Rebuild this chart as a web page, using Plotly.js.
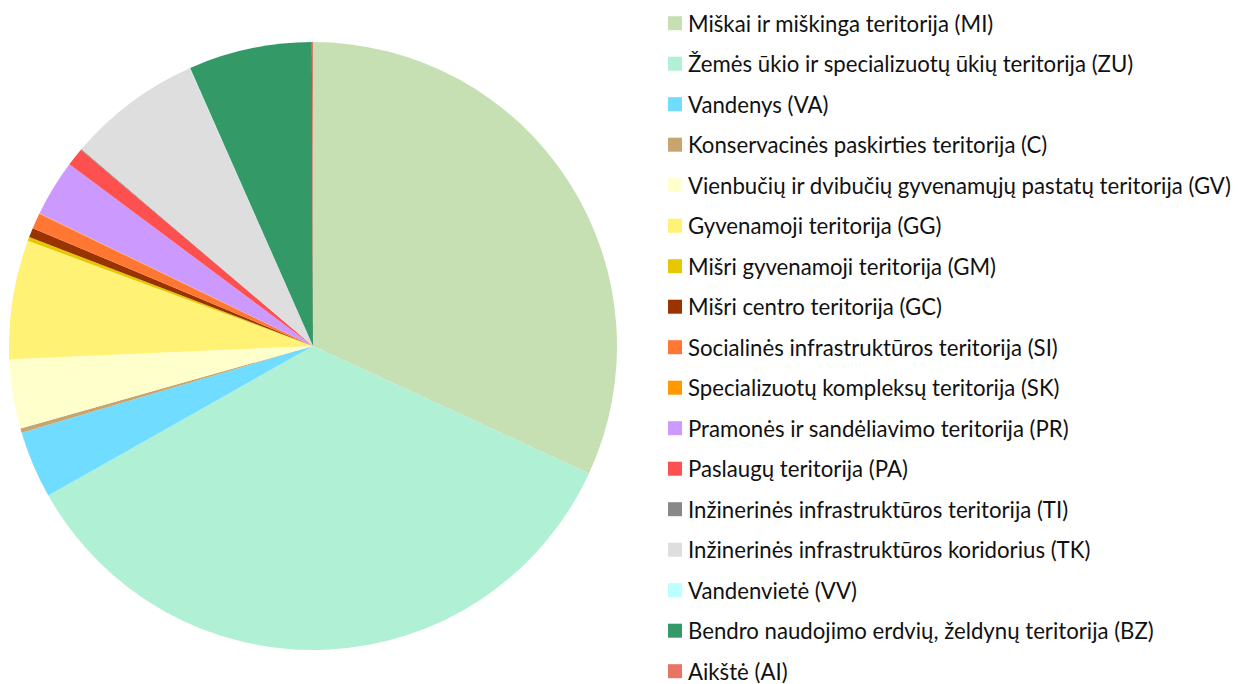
<!DOCTYPE html>
<html><head><meta charset="utf-8">
<script src="https://cdn.plot.ly/plotly-3.0.1.min.js"></script>
<style>html,body{margin:0;padding:0;background:#fff;overflow:hidden}#c{width:1239px;height:684px}</style>
</head><body><div id="c"></div>
<script>
const labels = [
  "Miškai ir miškinga teritorija (MI)",
  "Žemės ūkio ir specializuotų ūkių teritorija (ZU)",
  "Vandenys (VA)",
  "Konservacinės paskirties teritorija (C)",
  "Vienbučių ir dvibučių gyvenamųjų pastatų teritorija (GV)",
  "Gyvenamoji teritorija (GG)",
  "Mišri gyvenamoji teritorija (GM)",
  "Mišri centro teritorija (GC)",
  "Socialinės infrastruktūros teritorija (SI)",
  "Specializuotų kompleksų teritorija (SK)",
  "Pramonės ir sandėliavimo teritorija (PR)",
  "Paslaugų teritorija (PA)",
  "Inžinerinės infrastruktūros teritorija (TI)",
  "Inžinerinės infrastruktūros koridorius (TK)",
  "Vandenvietė (VV)",
  "Bendro naudojimo erdvių, želdynų teritorija (BZ)",
  "Aikštė (AI)"
];
const values = [31.89, 34.94, 3.58, 0.23, 3.68, 6.32, 0.21, 0.50, 0.83, 0.03, 3.01, 0.97, 0.04, 7.14, 0.03, 6.56, 0.06];
const colors = ["#c6e0b4", "#b0f0d4", "#70dcff", "#c8a46e", "#ffffcc", "#fff275", "#e6c800", "#993300",
  "#ff7733", "#ff9900", "#cc99ff", "#ff5050", "#888888", "#dedede", "#bbffff", "#339966", "#e87563"];

const W = 1239, H = 684;
const trace = {
  type: "pie",
  labels: labels,
  values: values,
  sort: false,
  direction: "clockwise",
  rotation: 0,
  textinfo: "none",
  marker: {colors: colors, line: {width: 0}},
  domain: {x: [9 / W, 617 / W], y: [(H - 650) / H, (H - 42) / H]},
  showlegend: false
};

const shapes = [], annotations = [];
const rowTop = 23.2, rowStep = 40.5;
labels.forEach((lab, i) => {
  const yc = rowTop + rowStep * i;
  shapes.push({type: "rect", xref: "paper", yref: "paper",
    x0: 668 / W, x1: 682 / W, y0: (H - (yc + 7)) / H, y1: (H - (yc - 7)) / H,
    fillcolor: colors[i], line: {width: 0}});
  annotations.push({xref: "paper", yref: "paper", x: 686 / W, y: (H - yc) / H,
    xanchor: "left", yanchor: "middle", showarrow: false, text: lab,
    font: {family: "Lato, sans-serif", size: 22.2, color: "#111"}});
});

const layout = {
  width: W, height: H,
  margin: {l: 0, r: 0, t: 0, b: 0},
  paper_bgcolor: "#fff",
  showlegend: false,
  shapes: shapes,
  annotations: annotations
};
Plotly.newPlot("c", [trace], layout, {displayModeBar: false, staticPlot: true});
</script>
</body></html>
